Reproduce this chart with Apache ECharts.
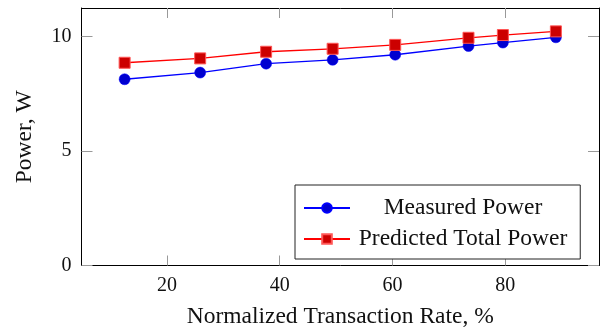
<!DOCTYPE html>
<html>
<head>
<meta charset="utf-8">
<script src="https://cdn.jsdelivr.net/npm/echarts@6/dist/echarts.min.js"></script>
<style>
  html, body { margin: 0; padding: 0; background: #fff; }
  #chart { width: 602px; height: 331px; }
</style>
</head>
<body>
<div id="chart"></div>
<script>
// Normalized transaction rate (%) for each measurement run
const transactionRate = [12.5, 25.9, 37.6, 49.4, 60.5, 73.5, 79.6, 89.0];
// Power draw in watts
const measuredPower = [8.13, 8.42, 8.81, 8.98, 9.20, 9.58, 9.73, 9.96];
const predictedTotalPower = [8.85, 9.04, 9.33, 9.46, 9.63, 9.94, 10.06, 10.22];
// Tick values
const xTicks = [20, 40, 60, 80];
const yTicks = [0, 5, 10];

const seriesNames = ['Measured Power', 'Predicted Total Power'];

const FONT = '"Liberation Serif", "DejaVu Serif", serif';
const TEXT = '#111';
const TICK = '#999';

function pairs(xs, ys) {
  return xs.map((x, i) => [x, ys[i]]);
}

const xRange = { min: 4.85, max: 96.65 };
const yRange = { min: 0, max: 11.24 };

function xAxisDef(pos, showLabels, name) {
  return {
    type: 'value',
    position: pos,
    min: xRange.min,
    max: xRange.max,
    name: name || '',
    nameLocation: 'middle',
    nameGap: 39,
    nameTextStyle: { fontFamily: FONT, fontSize: 23.5, color: TEXT },
    axisLine: { show: true, onZero: false, lineStyle: { color: '#000', width: 1 } },
    axisTick: { show: true, inside: true, length: 10, customValues: xTicks, lineStyle: { color: TICK, width: 1 } },
    axisLabel: { show: showLabels, customValues: xTicks, margin: 10, fontFamily: FONT, fontSize: 20, color: TEXT },
    splitLine: { show: false }
  };
}

function yAxisDef(pos, showLabels, name) {
  return {
    type: 'value',
    position: pos,
    min: yRange.min,
    max: yRange.max,
    name: name || '',
    nameLocation: 'middle',
    nameRotate: 90,
    nameGap: 45,
    nameTextStyle: { fontFamily: FONT, fontSize: 23.5, color: TEXT },
    axisLine: { show: true, onZero: false, lineStyle: { color: '#000', width: 1 } },
    axisTick: { show: true, inside: true, length: 11, customValues: yTicks, lineStyle: { color: TICK, width: 1 } },
    axisLabel: { show: showLabels, customValues: yTicks, margin: 10, fontFamily: FONT, fontSize: 20, color: TEXT },
    splitLine: { show: false }
  };
}

const chart = echarts.init(document.getElementById('chart'), null, { renderer: 'canvas' });

chart.setOption({
  animation: false,
  backgroundColor: '#fff',
  grid: { left: 81.5, right: 3, top: 8, bottom: 65.5, containLabel: false, outerBoundsMode: 'none' },
  xAxis: [
    xAxisDef('bottom', true, 'Normalized Transaction Rate, %'),
    xAxisDef('top', false)
  ],
  yAxis: [
    yAxisDef('left', true, 'Power, W'),
    yAxisDef('right', false)
  ],
  legend: {
    data: seriesNames,
    orient: 'vertical',
    left: 295,
    top: 185,
    itemWidth: 46,
    itemHeight: 12,
    itemGap: 7,
    padding: [11, 13, 8, 8],
    borderColor: '#222',
    borderWidth: 1,
    backgroundColor: '#fff',
    formatter: name => '{c|' + name + '}',
    textStyle: {
      fontFamily: FONT,
      fontSize: 23.5,
      color: TEXT,
      rich: {
        c: { width: 216, align: 'center', fontFamily: FONT, fontSize: 23.5, color: TEXT }
      }
    }
  },
  series: [
    {
      name: seriesNames[0],
      type: 'line',
      data: pairs(transactionRate, measuredPower),
      symbol: 'circle',
      symbolSize: 11,
      lineStyle: { color: '#0000ff', width: 1.3 },
      itemStyle: { color: '#0000d0', borderColor: '#0000ff', borderWidth: 0.5 },
      z: 2
    },
    {
      name: seriesNames[1],
      type: 'line',
      data: pairs(transactionRate, predictedTotalPower),
      symbol: 'rect',
      symbolSize: 11,
      lineStyle: { color: '#ff0000', width: 1.3 },
      itemStyle: { color: '#cc0000', borderColor: '#ff5555', borderWidth: 1 },
      z: 3
    }
  ]
});
</script>
</body>
</html>
